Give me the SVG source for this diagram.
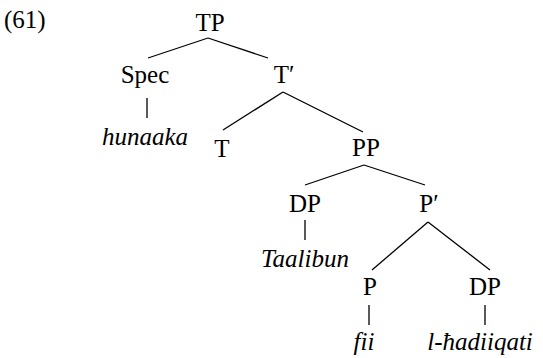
<svg xmlns="http://www.w3.org/2000/svg" width="543" height="358" viewBox="0 0 543 358">
<style>
.t{font-family:"Liberation Serif",serif;font-size:25px;fill:#000;text-anchor:middle}
.i{font-style:italic}
#edges line{stroke:#000;stroke-width:1.3}
</style>
<rect width="543" height="358" fill="#fff"/>
<text class="t" x="4" y="28" style="text-anchor:start">(61)</text>
<g id="edges">
<line x1="208" y1="38" x2="148" y2="58"/>
<line x1="208" y1="38" x2="268" y2="58"/>
<line x1="147" y1="98" x2="147" y2="118"/>
<line x1="283" y1="92" x2="223" y2="130"/>
<line x1="283" y1="92" x2="363" y2="132"/>
<line x1="364" y1="165" x2="305" y2="185"/>
<line x1="364" y1="165" x2="425" y2="185"/>
<line x1="305" y1="220" x2="305" y2="240"/>
<line x1="428" y1="222" x2="372" y2="270"/>
<line x1="428" y1="222" x2="490" y2="270"/>
<line x1="369" y1="305" x2="369" y2="325"/>
<line x1="485" y1="305" x2="485" y2="325"/>
</g>
<g id="TP"><text class="t" x="210" y="31">TP</text></g>
<g id="Spec"><text class="t" x="145" y="83">Spec</text></g>
<g id="Tbar"><text class="t" x="284" y="83">T′</text></g>
<g id="hunaaka"><text class="t i" x="145" y="145">hunaaka</text></g>
<g id="T"><text class="t" x="222" y="157">T</text></g>
<g id="PP"><text class="t" x="366" y="156">PP</text></g>
<g id="DP1"><text class="t" x="305" y="212">DP</text></g>
<g id="Pbar"><text class="t" x="429" y="212">P′</text></g>
<g id="Taalibun"><text class="t i" x="305" y="267">Taalibun</text></g>
<g id="P"><text class="t" x="370" y="295">P</text></g>
<g id="DP2"><text class="t" x="485" y="295">DP</text></g>
<g id="fii"><text class="t i" x="364" y="350">fii</text></g>
<g id="lhadiiqati"><text class="t i" x="480" y="350">l-ħadiiqati</text></g>
</svg>
